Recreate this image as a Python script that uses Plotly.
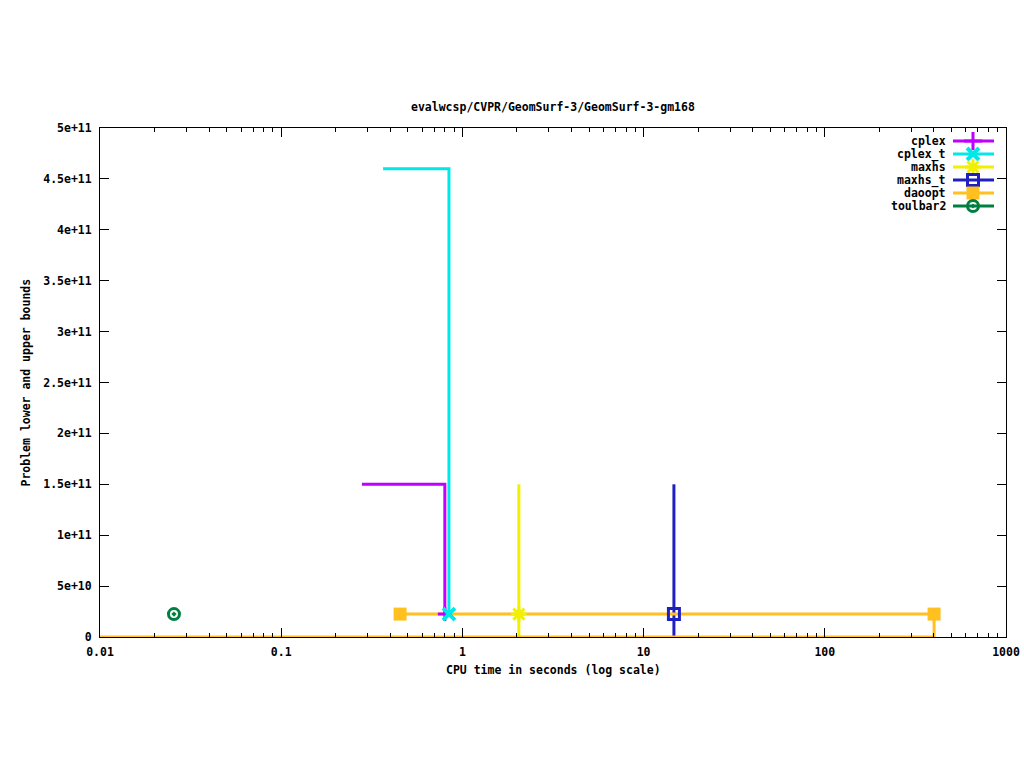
import plotly.graph_objects as go

# ---- data ----
series_names = ["cplex", "cplex_t", "maxhs", "maxhs_t", "daoopt", "toulbar2"]
colors = ["#c000ff", "#00e8e8", "#f0f000", "#2020c0", "#ffc020", "#008040"]

cplex_time = [0.279, 0.80, 0.80]
cplex_bound = [1.5e11, 1.5e11, 2.25e10]
cplex_t_time = [0.365, 0.843, 0.843]
cplex_t_bound = [4.6e11, 4.6e11, 2.25e10]
maxhs_time = [2.05, 2.05]
maxhs_bound = [1.5e11, 0]
maxhs_t_time = [14.7, 14.7]
maxhs_t_bound = [1.5e11, 0]
daoopt_ub_time = [0.453, 401]
daoopt_ub_bound = [2.25e10, 2.25e10]
daoopt_lb_time = [0.01, 401, 401]
daoopt_lb_bound = [0, 0, 2.25e10]
toulbar2_time = [0.0256]
toulbar2_bound = [2.25e10]

# solution markers
cplex_mk_time = [0.80]
cplex_t_mk_time = [0.843]
maxhs_mk_time = [2.05]
maxhs_t_mk_time = [14.7]
daoopt_mk_time = [0.453, 401]
optimum = 2.25e10

y_tickvals = [0, 5e10, 1e11, 1.5e11, 2e11, 2.5e11, 3e11, 3.5e11, 4e11, 4.5e11, 5e11]
y_ticktext = ["0", "5e+10", "1e+11", "1.5e+11", "2e+11", "2.5e+11", "3e+11",
              "3.5e+11", "4e+11", "4.5e+11", "5e+11"]
x_tickvals = [0.01, 0.1, 1, 10, 100, 1000]
x_ticktext = ["0.01", "0.1", "1", "10", "100", "1000"]

symbols = [
    dict(symbol="cross-thin", size=13, line=dict(width=3)),
    dict(symbol="x-thin", size=12, line=dict(width=4)),
    dict(symbol="asterisk", size=13, line=dict(width=3)),
    dict(symbol="square-open", size=11, line=dict(width=3)),
    dict(symbol="square", size=13, line=dict(width=0)),
    dict(symbol="circle-open-dot", size=11, line=dict(width=3)),
]

FONT = "DejaVu Sans Mono"
FSIZE = 11.5
def tfont():
    return dict(family=FONT, size=FSIZE, color="black", weight="bold")
LW = 3

fig = go.Figure()

def line(x, y, c):
    fig.add_trace(go.Scatter(x=x, y=y, mode="lines", line=dict(color=c, width=LW),
                             showlegend=False, hoverinfo="skip"))

def mk(x, y, i, size=None):
    s = symbols[i]
    fig.add_trace(go.Scatter(x=x, y=y, mode="markers",
                             marker=dict(symbol=s["symbol"], size=size or s["size"], color=colors[i],
                                         line=dict(color=colors[i], width=s["line"]["width"])),
                             showlegend=False, hoverinfo="skip", cliponaxis=False))

line(cplex_time, cplex_bound, colors[0])
line(cplex_t_time, cplex_t_bound, colors[1])
line(maxhs_time, maxhs_bound, colors[2])
line(maxhs_t_time, maxhs_t_bound, colors[3])
line(daoopt_ub_time, daoopt_ub_bound, colors[4])
line(daoopt_lb_time, daoopt_lb_bound, colors[4])

mk(cplex_mk_time, [optimum] * len(cplex_mk_time), 0, size=10)
mk(cplex_t_mk_time, [optimum] * len(cplex_t_mk_time), 1)
mk(maxhs_mk_time, [optimum] * len(maxhs_mk_time), 2)
mk(maxhs_t_mk_time, [optimum] * len(maxhs_t_mk_time), 3)
mk(daoopt_mk_time, [optimum] * len(daoopt_mk_time), 4)
mk(toulbar2_time, toulbar2_bound, 5)

# ---- gnuplot-style key (text right, sample on the right) ----
PW, PH = 906, 509
def fx(px):
    return (px - 100) / PW
def fy(py):
    return (637 - py) / PH

shapes = []
annotations = []
for i, name in enumerate(series_names):
    ry = 141 + 13 * i
    shapes.append(dict(type="line", xref="paper", yref="paper",
                       x0=fx(953), x1=fx(994), y0=fy(ry), y1=fy(ry),
                       line=dict(color=colors[i], width=LW)))
    annotations.append(dict(x=fx(948), y=fy(ry), xref="paper", yref="paper",
                            text=name, showarrow=False, xanchor="right", yanchor="middle",
                            font=tfont()))
    s = symbols[i]
    fig.add_trace(go.Scatter(x=[fx(973)], y=[fy(ry)], xaxis="x2", yaxis="y2", mode="markers",
                             marker=dict(symbol=s["symbol"], size=s["size"], color=colors[i],
                                         line=dict(color=colors[i], width=s["line"]["width"])),
                             showlegend=False, hoverinfo="skip", cliponaxis=False))

annotations.append(dict(x=0.5, y=fy(107), xref="paper", yref="paper",
                        text="evalwcsp/CVPR/GeomSurf-3/GeomSurf-3-gm168", showarrow=False,
                        xanchor="center", yanchor="middle", font=tfont()))
annotations.append(dict(x=0.5, y=fy(670), xref="paper", yref="paper",
                        text="CPU time in seconds (log scale)", showarrow=False,
                        xanchor="center", yanchor="middle", font=tfont()))
annotations.append(dict(x=fx(25), y=0.5, xref="paper", yref="paper",
                        text="Problem lower and upper bounds", showarrow=False, textangle=-90,
                        xanchor="center", yanchor="middle", font=tfont()))

axis_common = dict(showline=True, linecolor="black", linewidth=1, mirror="ticks",
                   ticks="inside", tickcolor="black", showgrid=False, zeroline=False,
                   tickfont=tfont())

fig.update_layout(
    width=1024, height=768,
    margin=dict(l=100, r=18, t=128, b=131, autoexpand=False),
    paper_bgcolor="white", plot_bgcolor="white",
    showlegend=False,
    xaxis=dict(type="log", range=[-2, 3], tickvals=x_tickvals, ticktext=x_ticktext,
               ticklen=9, ticklabelstandoff=4,
               minor=dict(ticks="inside", ticklen=4, tickcolor="black",
                          dtick="D1", showgrid=False),
               **axis_common),
    yaxis=dict(range=[0, 5e11], tickvals=y_tickvals, ticktext=y_ticktext, ticklen=9,
               ticklabelstandoff=5, **axis_common),
    xaxis2=dict(overlaying="x", range=[0, 1], visible=False, fixedrange=True),
    yaxis2=dict(overlaying="y", range=[0, 1], visible=False, fixedrange=True),
    shapes=shapes,
    annotations=annotations,
)

fig.write_html("out.html", config={"displayModeBar": False},
               post_script="document.body.style.margin='0';document.body.style.padding='0';")
